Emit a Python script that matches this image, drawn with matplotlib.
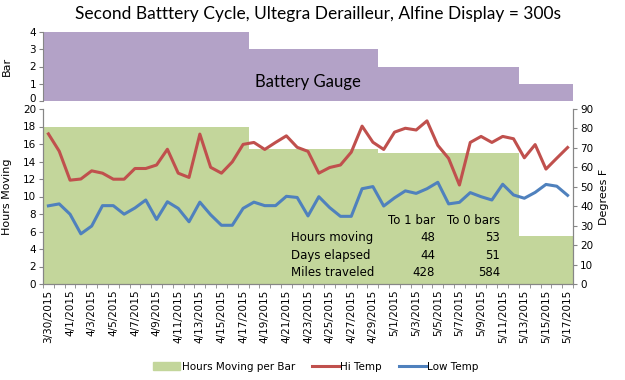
import numpy as np
import pandas as pd
import matplotlib.pyplot as plt
import matplotlib.transforms as mtransforms
from matplotlib.patches import Patch
from matplotlib.lines import Line2D

# daily data, 3/30/2015 .. 5/17/2015
dates = pd.date_range("2015-03-30", "2015-05-17", freq="D")
hi_temp = [77.2, 68.3, 53.4, 54.0, 58.2, 57.0, 53.9, 53.9, 59.4, 59.4,
           61.2, 69.3, 57.0, 54.8, 77.1, 60.0, 57.0, 62.8, 71.8, 72.8,
           69.2, 72.8, 76.2, 70.3, 68.2, 57.0, 59.9, 61.2, 67.8, 81.2,
           72.9, 69.2, 78.1, 80.1, 79.2, 83.9, 71.3, 64.6, 50.9, 72.8,
           75.9, 72.8, 75.9, 74.7, 64.9, 71.7, 59.1, 64.7, 70.2]
low_temp = [40.2, 41.2, 35.9, 25.8, 29.8, 40.3, 40.3, 35.9, 39.1, 43.2,
            33.2, 42.3, 38.9, 32.0, 42.1, 35.6, 30.2, 30.2, 38.9, 42.1,
            40.3, 40.3, 45.1, 44.5, 35.0, 44.9, 39.3, 34.8, 34.8, 49.0,
            50.1, 40.1, 44.3, 47.9, 46.6, 49.0, 52.3, 41.2, 42.0, 47.0,
            44.9, 43.2, 51.3, 45.8, 44.1, 47.1, 51.2, 50.3, 45.6]

# battery gauge: day index where each level starts (+ end), bars shown, hours moving
gauge_days = [0, 19, 31, 44, 49]
gauge_bars = [4, 3, 2, 1]
hours_per_bar = [17.9, 15.4, 14.95, 5.5]

table_rows = ["Hours moving", "Days elapsed", "Miles traveled"]
to_1_bar = [48, 44, 428]
to_0_bars = [53, 51, 584]

purple = "#B3A2C7"
green = "#C3D69B"
red = "#C0504D"
blue = "#4F81BD"
axis_col = "#868686"

W, H = 625, 380
fig = plt.figure(figsize=(W / 100, H / 100), dpi=100)
L, R = 43 / W, 573 / W

x = np.arange(len(dates))
edges = np.array(gauge_days) - 0.5
xlim = (-0.5, len(dates) - 0.5)

# --- top panel: battery gauge
ax0 = fig.add_axes([L, 1 - 101 / H, R - L, 69 / H])
ax0.stairs(gauge_bars, edges, fill=True, color=purple, baseline=0)
ax0.set_xlim(xlim)
ax0.set_ylim(0, 4)
ax0.set_yticks(range(5))
ax0.set_xticks([])
for s in ["top", "right", "bottom"]:
    ax0.spines[s].set_visible(False)
ax0.spines["left"].set_color(axis_col)
ax0.tick_params(axis="y", colors=axis_col, labelcolor="black", labelsize=7.5, length=3, pad=2)
# nudge the "0" label up a bit so it doesn't sit on the "20" below
shift = mtransforms.ScaledTranslation(0, 2 / 72, fig.dpi_scale_trans)
ax0.get_yticklabels()[0].set_transform(ax0.get_yticklabels()[0].get_transform() + shift)
ax0.set_ylabel("Bar", fontsize=8)
ax0.yaxis.set_label_coords(-0.058, 0.5)
ax0.text(0.5, 0.27, "Battery Gauge", transform=ax0.transAxes, ha="center", va="center",
         fontsize=12, family="Lato")

# --- bottom panel: hours moving + temps
ax1 = fig.add_axes([L, 1 - 284 / H, R - L, 175 / H])
ax1.stairs(hours_per_bar, edges, fill=True, color=green, baseline=0)
ax1.set_xlim(xlim)
ax1.set_ylim(0, 20)
ax1.set_yticks(range(0, 21, 2))
ax1.set_xticks(x[::2])
ax1.set_xticklabels([f"{d.month}/{d.day}/{d.year}" for d in dates[::2]], rotation=90, fontsize=7.5)
ax1.set_xticks(np.arange(len(dates) + 1) - 0.5, minor=True)
ax1.tick_params(axis="x", which="major", length=0, pad=4)
ax1.tick_params(axis="x", which="minor", length=3, color=axis_col)
ax1.tick_params(axis="y", colors=axis_col, labelcolor="black", labelsize=7.5, length=3, pad=2)
ax1.set_ylabel("Hours Moving", fontsize=8)
ax1.yaxis.set_label_coords(-0.058, 0.5)

ax2 = ax1.twinx()
ax2.plot(x, hi_temp, color=red, lw=2.2)
ax2.plot(x, low_temp, color=blue, lw=2.2)
ax2.set_ylim(0, 90)
ax2.set_yticks(range(0, 91, 10))
ax2.tick_params(axis="y", colors=axis_col, labelcolor="black", labelsize=7.5, length=3, pad=2)
ax2.set_ylabel("Degrees F", fontsize=8)

for a in (ax1, ax2):
    a.spines["top"].set_visible(False)
    for s in ["left", "right", "bottom"]:
        a.spines[s].set_color(axis_col)

# summary table in the plot
tx = lambda px: px / W
ty = lambda py: 1 - py / H
fig.text(tx(435), ty(221), "To 1 bar", ha="right", va="center", fontsize=8.5)
fig.text(tx(500), ty(221), "To 0 bars", ha="right", va="center", fontsize=8.5)
for row, v1, v0, py in zip(table_rows, to_1_bar, to_0_bars, [238, 255.5, 272]):
    fig.text(tx(291), ty(py), row, ha="left", va="center", fontsize=8.5)
    fig.text(tx(435), ty(py), str(v1), ha="right", va="center", fontsize=8.5)
    fig.text(tx(500), ty(py), str(v0), ha="right", va="center", fontsize=8.5)

fig.text(318 / W, 1 - 14 / H, "Second Batttery Cycle, Ultegra Derailleur, Alfine Display = 300s",
         ha="center", va="center", fontsize=12.5, family="Lato")

handles = [Patch(color=green), Line2D([], [], color=red, lw=2.2), Line2D([], [], color=blue, lw=2.2)]
fig.legend(handles, ["Hours Moving per Bar", "Hi Temp", "Low Temp"], loc="center",
           bbox_to_anchor=(316 / W, 1 - 367 / H), ncol=3, frameon=False, fontsize=7.5,
           handlelength=2.6, handletextpad=0.15, columnspacing=1.6, handleheight=0.8)

fig.savefig("out.png", dpi=100)
